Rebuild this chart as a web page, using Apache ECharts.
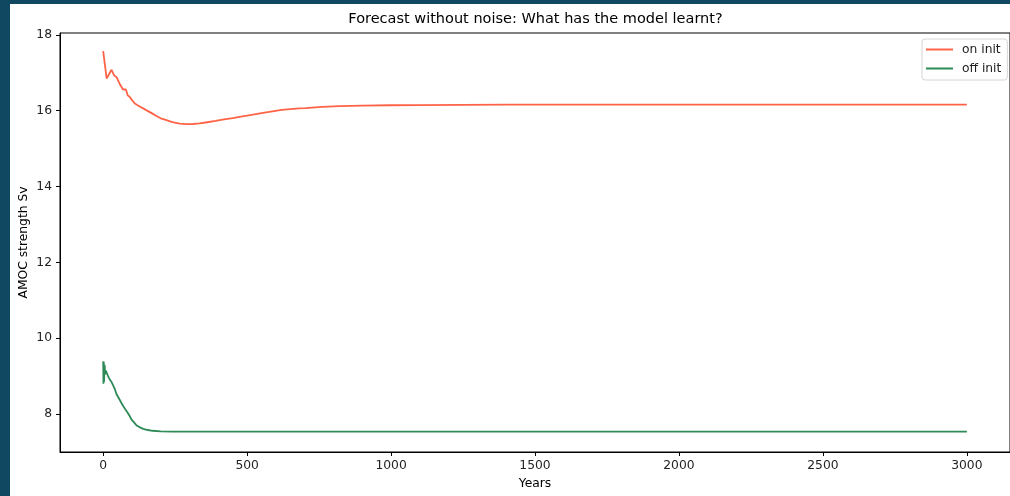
<!DOCTYPE html>
<html>
<head>
<meta charset="utf-8">
<script src="https://cdn.jsdelivr.net/npm/echarts@6/dist/echarts.min.js"></script>
<style>
  html, body { margin: 0; padding: 0; background: #ffffff; }
  #chart { width: 1010px; height: 496px; }
</style>
</head>
<body>
<div id="chart"></div>
<script>
// Forecast from the "on" initial state (years, Sv)
const onYears = [0, 3.5, 12, 29, 38, 46, 58, 69, 79, 85, 93, 98, 110, 121, 151, 170, 185, 200, 220, 240, 266, 290, 312, 335, 356, 390, 420, 450, 474, 500, 530, 560, 588, 620, 650, 680, 703, 760, 821, 900, 1000, 1100, 1250, 1400, 1700, 2000, 2500, 3000];
const onValues = [17.57, 17.52, 16.85, 17.08, 16.93, 16.89, 16.70, 16.56, 16.56, 16.41, 16.36, 16.30, 16.19, 16.14, 16.01, 15.93, 15.86, 15.80, 15.75, 15.70, 15.66, 15.645, 15.65, 15.665, 15.69, 15.73, 15.77, 15.805, 15.84, 15.87, 15.91, 15.95, 15.985, 16.02, 16.04, 16.06, 16.07, 16.10, 16.12, 16.135, 16.145, 16.15, 16.155, 16.16, 16.16, 16.16, 16.16, 16.16];

// Forecast from the "off" initial state (years, Sv)
const offYears = [0, 1, 2, 3, 5, 7, 9, 12, 17, 20, 23, 30, 35, 41, 46, 52, 57, 63, 69, 75, 80, 84, 87, 92, 98, 107, 116, 128, 139, 155, 172, 200, 240, 300, 500, 1000, 2000, 3000];
const offValues = [9.39, 8.80, 9.38, 8.85, 9.30, 9.05, 9.15, 9.13, 9.00, 9.02, 8.91, 8.83, 8.75, 8.65, 8.53, 8.45, 8.41, 8.30, 8.22, 8.15, 8.11, 8.05, 8.00, 7.95, 7.86, 7.78, 7.70, 7.65, 7.61, 7.58, 7.56, 7.545, 7.535, 7.535, 7.535, 7.535, 7.535, 7.535];

const xTicks = [0, 500, 1000, 1500, 2000, 2500, 3000];
const yTicks = [8, 10, 12, 14, 16, 18];

const seriesNames = ['on init', 'off init'];
const seriesColors = ['#ff6347', '#2e8b57'];

function pairs(xs, ys) {
  return xs.map((x, i) => [x, ys[i]]);
}

const FONT = 'DejaVu Sans';
const LABEL_SIZE = 12.3;
const chart = echarts.init(document.getElementById('chart'), null, { renderer: 'canvas' });

chart.setOption({
  animation: false,
  backgroundColor: '#ffffff',
  textStyle: { fontFamily: FONT },
  grid: {
    left: 60, top: 33, width: 951, height: 419,
    show: true, borderColor: '#000000', borderWidth: 1,
    backgroundColor: '#ffffff'
  },
  graphic: [
    { type: 'rect', left: 0, top: 0, z: 100, shape: { width: 10, height: 496 }, style: { fill: '#114861' } },
    { type: 'rect', left: 0, top: 0, z: 100, shape: { width: 1010, height: 4 }, style: { fill: '#114861' } },
    {
      type: 'text', x: 535.5, y: 19, z: 100,
      style: {
        text: 'Forecast without noise: What has the model learnt?',
        fill: '#000000', font: '14.5px "DejaVu Sans"',
        textAlign: 'center', textVerticalAlign: 'middle'
      }
    }
  ],
  legend: {
    orient: 'vertical',
    left: 922, top: 39,
    padding: [3, 6, 4, 4],
    itemGap: 4,
    itemWidth: 27, itemHeight: 2,
    icon: 'rect',
    borderColor: '#d6d6d6', borderWidth: 1, borderRadius: 3,
    backgroundColor: '#ffffff',
    textStyle: { fontFamily: FONT, fontSize: LABEL_SIZE, color: '#222222', padding: [0, 0, 0, 4], lineHeight: 15 },
    data: seriesNames
  },
  xAxis: {
    type: 'value',
    min: -150, max: 3150,
    name: 'Years', nameLocation: 'middle', nameGap: 26, nameMoveOverlap: false,
    nameTextStyle: { fontFamily: FONT, fontSize: LABEL_SIZE, color: '#000000' },
    splitLine: { show: false },
    axisLine: { show: true, onZero: false, lineStyle: { color: '#000000', width: 1 } },
    axisTick: { show: true, length: 4, customValues: xTicks, lineStyle: { color: '#000000' } },
    axisLabel: {
      customValues: xTicks, margin: 8, fontFamily: FONT, fontSize: LABEL_SIZE, color: '#222222',
      formatter: v => String(v)
    }
  },
  yAxis: {
    type: 'value',
    min: 7.0, max: 18.05,
    name: 'AMOC strength Sv', nameLocation: 'middle', nameGap: 30, nameMoveOverlap: false,
    nameTextStyle: { fontFamily: FONT, fontSize: LABEL_SIZE, color: '#000000' },
    splitLine: { show: false },
    axisLine: { show: true, onZero: false, lineStyle: { color: '#000000', width: 1 } },
    axisTick: { show: true, length: 4, customValues: yTicks, lineStyle: { color: '#000000' } },
    axisLabel: {
      customValues: yTicks, margin: 8, fontFamily: FONT, fontSize: LABEL_SIZE, color: '#222222',
      formatter: v => String(v)
    }
  },
  series: [
    {
      name: seriesNames[0], type: 'line', data: pairs(onYears, onValues),
      showSymbol: false, symbol: 'none',
      lineStyle: { color: seriesColors[0], width: 1.8 }, itemStyle: { color: seriesColors[0] }
    },
    {
      name: seriesNames[1], type: 'line', data: pairs(offYears, offValues),
      showSymbol: false, symbol: 'none',
      lineStyle: { color: seriesColors[1], width: 1.8 }, itemStyle: { color: seriesColors[1] }
    }
  ]
});
</script>
</body>
</html>
